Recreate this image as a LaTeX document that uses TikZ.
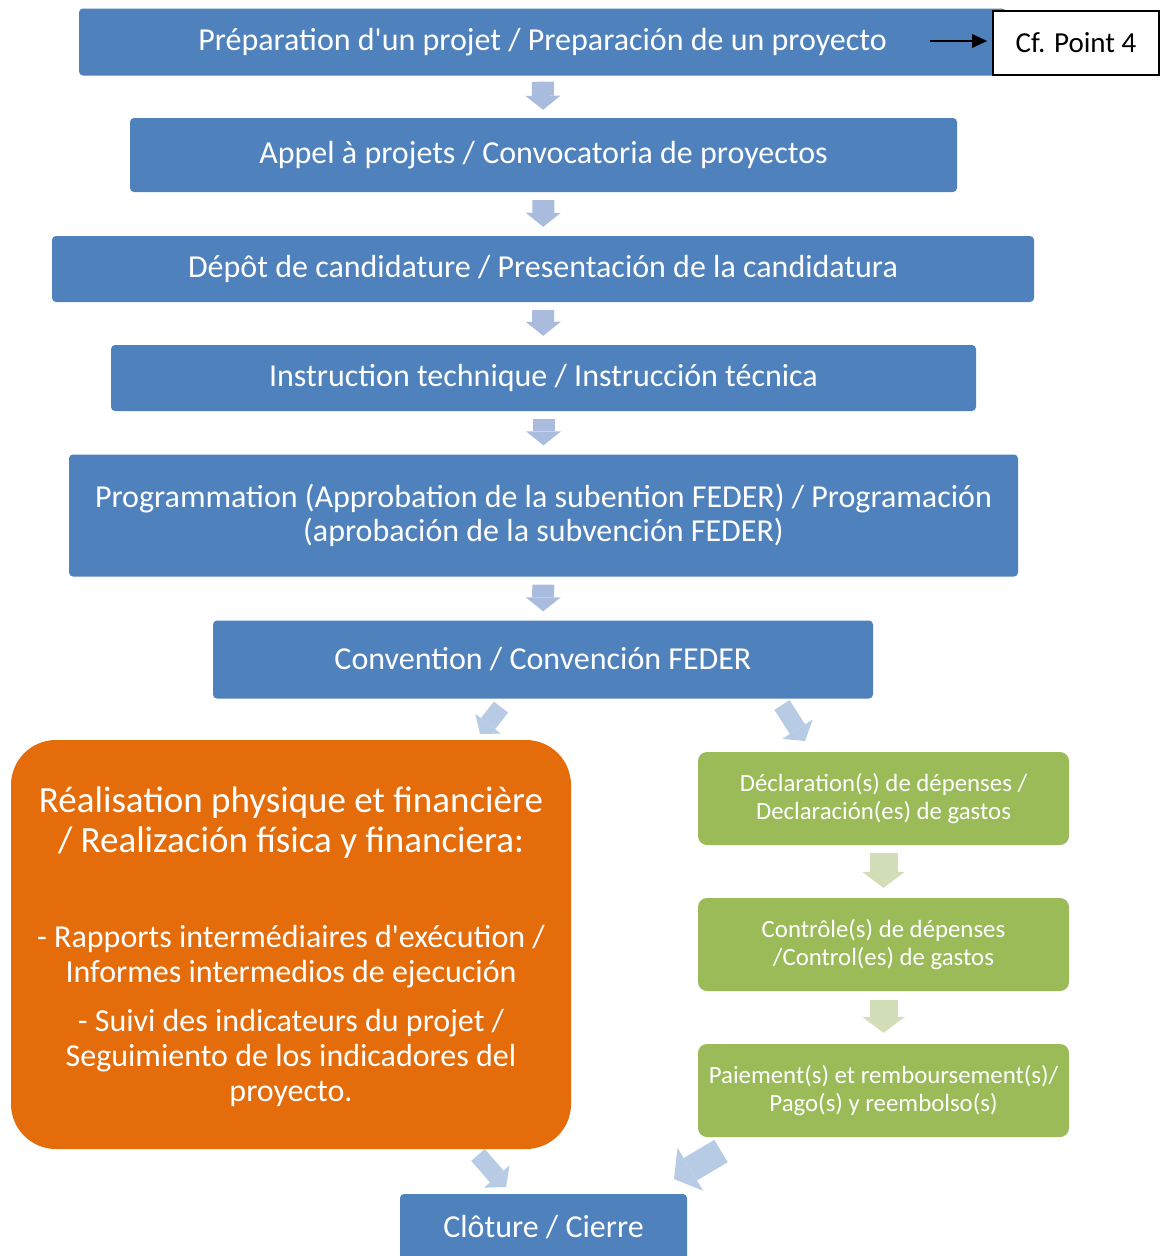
\documentclass[tikz,border=0pt]{standalone}
\usepackage{fontspec}
\setmainfont{Carlito}[Ligatures=TeXOff]
\usetikzlibrary{arrows.meta,calc}
\definecolor{boxblue}{HTML}{4F81BD}
\definecolor{boxorange}{HTML}{E46C0A}
\definecolor{boxgreen}{HTML}{9BBB59}
\definecolor{arrblue}{HTML}{A9BCDD}
\definecolor{arrblue2}{HTML}{B7CBE5}
\definecolor{arrgreen}{HTML}{D1DEB8}
\tikzset{
  bluebox/.style={fill=boxblue, rounded corners=4pt, text=white, inner sep=0pt, align=center,
    font=\fontsize{32}{34}\selectfont},
  greenbox/.style={fill=boxgreen, rounded corners=9pt, text=white, inner sep=0pt, align=center,
    minimum width=371pt, minimum height=93pt, font=\fontsize{24.8}{28}\selectfont},
  orangebox/.style={fill=boxorange, rounded corners=45pt, inner sep=0pt},
  orangetext/.style={text=white, inner sep=0pt, align=center},
  refbox/.style={draw=black, line width=1.8pt, fill=white, inner sep=0pt,
    font=\fontsize{29}{32}\selectfont},
  barrow/.style={draw=arrblue, line width=22pt, -{Triangle[length=14pt,width=35pt,line width=0pt]}},
  darrow/.style={draw=arrblue2, line width=#1},
  garrow/.style={draw=arrgreen, line width=28pt, -{Triangle[length=16pt,width=43pt,line width=0pt]}},
  ptr/.style={draw=black, line width=2pt, -{Triangle[length=15pt,width=14pt,line width=0pt]}}
}
\begin{document}
\begin{tikzpicture}[x=1pt,y=-1pt]
\useasboundingbox (0,0) rectangle (1160,1256);
\clip (0,0) rectangle (1160,1256);

% blue chain
\node[bluebox, minimum width=927pt, minimum height=67pt] (prep) at (542.5,42)
  {Préparation d'un projet / Preparación de un proyecto};
\node[bluebox, minimum width=827pt, minimum height=74pt] (appel) at (543.5,155)
  {Appel à projets / Convocatoria de proyectos};
\node[bluebox, minimum width=982pt, minimum height=66pt] (depot) at (543,269)
  {Dépôt de candidature / Presentación de la candidatura};
\node[bluebox, minimum width=865pt, minimum height=66pt] (instr) at (543.5,378)
  {Instruction technique / Instrucción técnica};
\node[bluebox, minimum width=949pt, minimum height=122pt] (prog) at (543.5,515.5)
  {Programmation (Approbation de la subention FEDER) / Programación\\(aprobación de la subvención FEDER)};
\node[bluebox, minimum width=660pt, minimum height=78pt] (conv) at (543,659.5)
  {Convention / Convención FEDER};

% reference box
\node[refbox, minimum width=166pt, minimum height=64pt] (cf) at (1076,43) {Cf. Point 4};
\coordinate (cfstart) at (930,41);
\draw[ptr, shorten >=5pt] (cfstart) -- (cf.west |- cfstart);

% orange box
\node[orangebox, minimum width=560pt, minimum height=409pt] (real) at (291,944.5) {};
\node[orangetext, font=\fontsize{37}{40}\selectfont] (realtitle) at (291,823)
  {Réalisation physique et financière\\/ Realización física y financiera:};
\node[orangetext, font=\fontsize{32}{35}\selectfont] (realb1) at (291,956.5)
  {- Rapports intermédiaires d'exécution /\\Informes intermedios de ejecución};
\node[orangetext, font=\fontsize{32}{35}\selectfont] (realb2) at (291,1058)
  {- Suivi des indicateurs du projet /\\Seguimiento de los indicadores del\\proyecto.};

% green chain
\node[greenbox] (decl) at (883.5,798.5) {Déclaration(s) de dépenses /\\Declaración(es) de gastos};
\node[greenbox] (ctrl) at (883.5,944.5) {Contrôle(s) de dépenses\\/Control(es) de gastos};
\node[greenbox] (paie) at (883.5,1090.5) {Paiement(s) et remboursement(s)/\\Pago(s) y reembolso(s)};

% closing
\node[bluebox, minimum width=287pt, minimum height=66pt] (clot) at (543.5,1227) {Clôture / Cierre};

% vertical blue arrows
\draw[barrow, shorten <=6pt, shorten >=8pt] (prep) -- (appel);
\draw[barrow, shorten <=8pt, shorten >=9pt] (appel) -- (depot);
\draw[barrow, shorten <=8pt, shorten >=9pt] (depot) -- (instr);
\draw[barrow, shorten <=8pt, shorten >=9pt] (instr) -- (prog);
\draw[barrow, shorten <=8pt, shorten >=9pt] (prog) -- (conv);

% green arrows
\draw[garrow, shorten <=8pt, shorten >=10pt] (decl) -- (ctrl);
\draw[garrow, shorten <=9pt, shorten >=11pt] (ctrl) -- (paie);

% diagonal arrows
\coordinate (d1s) at (501,707);
\coordinate (d1e) at (480,734);
\draw[darrow=18pt, -{Triangle[length=13pt,width=32pt,line width=0pt]}] (d1s) -- (d1e);
\coordinate (d2s) at (782,705);
\coordinate (d2e) at (805,741);
\draw[darrow=18pt, -{Triangle[length=14pt,width=36pt,line width=0pt]}] (d2s) -- (d2e);
\coordinate (d3s) at (478,1155);
\coordinate (d3e) at (506,1187);
\draw[darrow=18pt, -{Triangle[length=14pt,width=34pt,line width=0pt]}] (d3s) -- (d3e);
\coordinate (d4s) at (721,1151);
\coordinate (d4e) at (674,1179);
\draw[darrow=26pt, -{Triangle[length=19pt,width=50pt,line width=0pt]}] (d4s) -- (d4e);
\end{tikzpicture}
\end{document}
